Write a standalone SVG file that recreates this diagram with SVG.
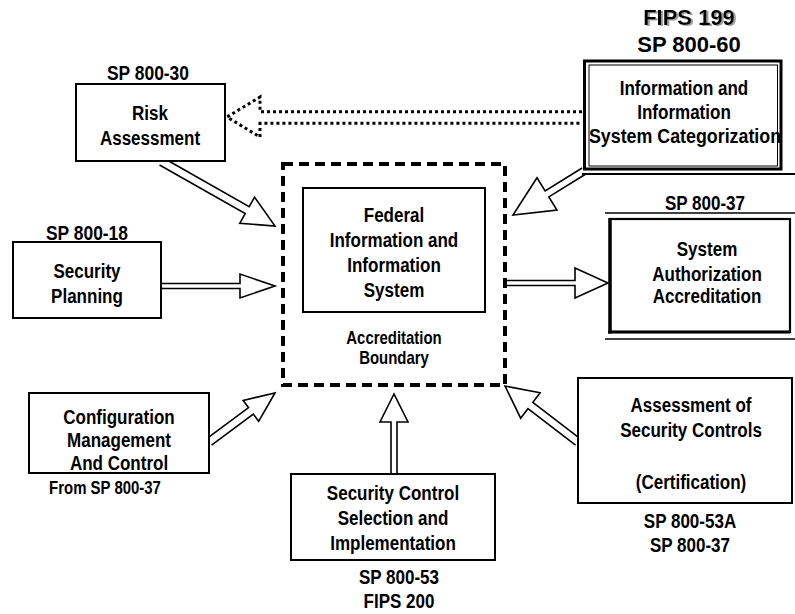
<svg xmlns="http://www.w3.org/2000/svg" width="795" height="614" viewBox="0 0 795 614">
<style>
.t{font-family:"Liberation Sans",Arial,sans-serif;font-weight:bold;font-size:20.5px;text-anchor:middle;fill:#000}
.s{font-size:18px}
.big{font-family:"Liberation Sans",Arial,sans-serif;font-weight:bold;font-size:22px;text-anchor:middle}
.box{fill:#fff;stroke:#000;stroke-width:2}
.arr{fill:#fff;stroke:#000;stroke-width:1.6;stroke-linejoin:miter}
</style>
<defs>
  <filter id="sh" x="-10%" y="-20%" width="130%" height="150%">
    <feOffset in="SourceAlpha" dx="2" dy="0.5" result="o"/>
    <feFlood flood-color="#a0a0a0"/>
    <feComposite in2="o" operator="in" result="g"/>
    <feMerge><feMergeNode in="g"/><feMergeNode in="SourceGraphic"/></feMerge>
  </filter>
</defs>
<rect width="795" height="614" fill="#fff"/>
<g id="connectors">
  <path class="arr" transform="translate(275,226) rotate(29.6)" d="M-130.5,-4 L-32,-4 L-32,-15 L0,0 L-32,15 L-32,4 L-130.5,4"/>
  <path class="arr" transform="translate(275,286)" d="M-114,-2.5 L-35,-2.5 L-35,-12 L0,0 L-35,12 L-35,2.5 L-114,2.5"/>
  <path class="arr" transform="translate(513,215) rotate(148.2)" d="M-83.5,-3.5 L-40,-3.5 L-40,-19 L0,0 L-40,19 L-40,3.5 L-83.5,3.5"/>
  <path class="arr" transform="translate(608,283)" d="M-103,-2.5 L-33,-2.5 L-33,-15 L0,0 L-33,15 L-33,2.5 L-103,2.5"/>
  <path class="arr" transform="translate(275,393) rotate(-36.6)" d="M-82,-4 L-30,-4 L-30,-13 L0,0 L-30,13 L-30,4 L-82,4"/>
  <path class="arr" transform="translate(394,394) rotate(-90)" d="M-80,-3 L-28,-3 L-28,-14 L0,0 L-28,14 L-28,3 L-80,3"/>
  <path class="arr" transform="translate(505,386) rotate(-142.5)" d="M-92,-4 L-32,-4 L-32,-16 L0,0 L-32,16 L-32,4 L-92,4"/>
  <path d="M582,111.7 L260,111.7 L260,97 L227,117 L260,137 L260,123.3 L582,123.3" fill="none" stroke="#000" stroke-width="3" stroke-dasharray="3 3"/>
</g>
<g id="boundary">
  <rect x="283" y="164" width="222" height="221" fill="none" stroke="#000" stroke-width="4" stroke-dasharray="10 6"/>
  <text class="t s" transform="translate(394,344) scale(0.83,1)">Accreditation</text>
  <text class="t s" transform="translate(394,364) scale(0.83,1)">Boundary</text>
</g>
<g id="federal">
  <rect class="box" x="303" y="188" width="182" height="124"/>
  <text class="t" transform="translate(394,222) scale(0.83,1)">Federal</text>
  <text class="t" transform="translate(394,247) scale(0.83,1)">Information and</text>
  <text class="t" transform="translate(394,272) scale(0.83,1)">Information</text>
  <text class="t" transform="translate(394,297) scale(0.83,1)">System</text>
</g>
<g id="risk">
  <rect class="box" x="76" y="84" width="149" height="77"/>
  <text class="t" transform="translate(148,80) scale(0.85,1)">SP 800-30</text>
  <text class="t" transform="translate(150,120) scale(0.83,1)">Risk</text>
  <text class="t" transform="translate(150,145) scale(0.83,1)">Assessment</text>
</g>
<g id="categorization">
  <text class="big" x="689" y="25" filter="url(#sh)">FIPS 199</text>
  <text class="big" x="689" y="52">SP 800-60</text>
  <rect x="584.5" y="61" width="196.5" height="108" fill="#fff" stroke="#000" stroke-width="3"/>
  <rect x="589" y="65" width="188.5" height="101" fill="none" stroke="#000" stroke-width="1"/>
  <line x1="582" y1="174" x2="795" y2="174" stroke="#000" stroke-width="2"/>
  <text class="t" transform="translate(684,95) scale(0.83,1)">Information and</text>
  <text class="t" transform="translate(684,119) scale(0.83,1)">Information</text>
  <text class="t" transform="translate(685,143) scale(0.87,1)">System Categorization</text>
</g>
<g id="authorization">
  <text class="t" transform="translate(705,210) scale(0.83,1)">SP 800-37</text>
  <line x1="605" y1="213" x2="795" y2="213" stroke="#000" stroke-width="1.6"/>
  <rect x="610" y="219" width="180" height="113" fill="#fff" stroke="#000" stroke-width="2.2"/>
  <line x1="610" y1="218" x2="610" y2="333.5" stroke="#000" stroke-width="3.5"/>
  <line x1="608" y1="332" x2="790" y2="332" stroke="#000" stroke-width="3"/>
  <line x1="605" y1="339" x2="795" y2="339" stroke="#000" stroke-width="1.4"/>
  <text class="t" transform="translate(707,256) scale(0.83,1)">System</text>
  <text class="t" transform="translate(707,281) scale(0.83,1)">Authorization</text>
  <text class="t" transform="translate(707,303) scale(0.83,1)">Accreditation</text>
</g>
<g id="planning">
  <rect class="box" x="13" y="242" width="148" height="76"/>
  <text class="t" transform="translate(87,240) scale(0.85,1)">SP 800-18</text>
  <text class="t" transform="translate(87,278) scale(0.83,1)">Security</text>
  <text class="t" transform="translate(87,303) scale(0.83,1)">Planning</text>
</g>
<g id="configuration">
  <rect class="box" x="29" y="393" width="180" height="80"/>
  <text class="t" transform="translate(119,424) scale(0.83,1)">Configuration</text>
  <text class="t" transform="translate(119,447) scale(0.83,1)">Management</text>
  <text class="t" transform="translate(119,470) scale(0.83,1)">And Control</text>
  <text class="t s" transform="translate(105,494) scale(0.83,1)">From SP 800-37</text>
</g>
<g id="control">
  <rect class="box" x="291" y="474" width="204" height="86"/>
  <text class="t" transform="translate(393,500) scale(0.83,1)">Security Control</text>
  <text class="t" transform="translate(393,525) scale(0.83,1)">Selection and</text>
  <text class="t" transform="translate(393,550) scale(0.83,1)">Implementation</text>
  <text class="t" transform="translate(399,584) scale(0.83,1)">SP 800-53</text>
  <text class="t" transform="translate(399,608) scale(0.83,1)">FIPS 200</text>
</g>
<g id="assessment">
  <rect class="box" x="578" y="378" width="214" height="125"/>
  <text class="t" transform="translate(691,412) scale(0.83,1)">Assessment of</text>
  <text class="t" transform="translate(691,437) scale(0.83,1)">Security Controls</text>
  <text class="t" transform="translate(691,489) scale(0.83,1)">(Certification)</text>
  <text class="t" transform="translate(690,528) scale(0.83,1)">SP 800-53A</text>
  <text class="t" transform="translate(690,552) scale(0.83,1)">SP 800-37</text>
</g>
</svg>
